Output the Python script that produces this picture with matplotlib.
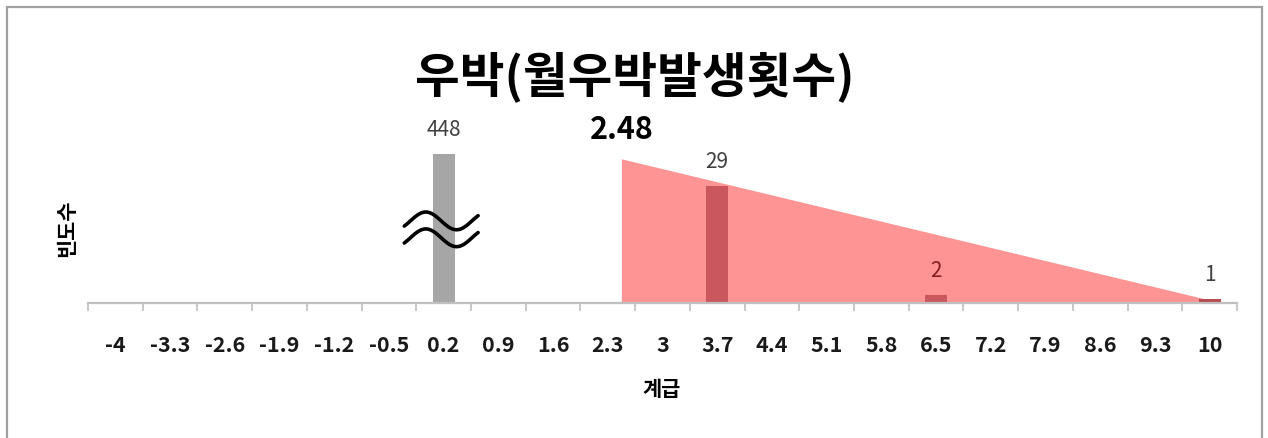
import numpy as np
import matplotlib
matplotlib.use("Agg")
import matplotlib.pyplot as plt
from matplotlib.patches import Polygon, Rectangle

plt.rcParams['font.family'] = ['Noto Sans CJK KR', 'DejaVu Sans']

# class marks on the x axis
class_labels = ["-4", "-3.3", "-2.6", "-1.9", "-1.2", "-0.5", "0.2", "0.9", "1.6",
                "2.3", "3", "3.7", "4.4", "5.1", "5.8", "6.5", "7.2", "7.9", "8.6",
                "9.3", "10"]
class_start = -4.0
class_step = 0.7

# observed frequencies
bar_classes = [0.2, 3.7, 6.5, 10.0]
bar_counts = [448, 29, 2, 1]
bar_colors = ["#A6A6A6", "#C9575D", "#C9575D", "#B84C52"]
label_colors = ["#404040", "#404040", "#8B1C1C", "#404040"]

# shaded region starting at the threshold
threshold = 2.48
region_height = 35.7
axis_cap = 37          # bars taller than this are drawn broken
y_top = 40

def pos(v):
    return (v - class_start) / class_step

W, H = 1268, 439
fig = plt.figure(figsize=(W / 100, H / 100), dpi=100)
fig.patch.set_facecolor("white")

# outer chart frame
fig.add_artist(Rectangle((7 / W, -0.05), (1262 - 7) / W, 1.05 - 8 / H,
                         transform=fig.transFigure, fill=False,
                         edgecolor="#A0A0A0", linewidth=1.6))

ax = fig.add_axes([88 / W, (H - 304) / H, (1237 - 88) / W, (304 - 143) / H])
n = len(class_labels)
ax.set_xlim(-0.5, n - 0.5)
ax.set_ylim(0, y_top)

bar_w = 0.4
end_pos = pos(bar_classes[-1]) + bar_w / 2
start_pos = pos(threshold)
ax.add_patch(Polygon([(start_pos, 0), (start_pos, region_height), (end_pos, 0)],
                     closed=True, facecolor="#FF9494", edgecolor="none", zorder=1))

xs = [pos(c) for c in bar_classes]
heights = [min(c, axis_cap) for c in bar_counts]
ax.bar(xs, heights, width=bar_w, color=bar_colors, zorder=2)

for x, h, c, col in zip(xs, heights, bar_counts, label_colors):
    ax.annotate(str(c), (x, h), xytext=(0, 10), textcoords="offset points",
                ha="center", va="bottom", fontsize=15, color=col)

ax.annotate(f"{threshold:.2f}", (start_pos, region_height), xytext=(0, 10),
            textcoords="offset points", ha="center", va="bottom",
            fontsize=22, fontweight="bold", color="black")

# break marks across the tall bar
t = np.linspace(0, 1, 100)
bx = pos(bar_classes[0]) - 0.72 + t * 1.35
for base in (20.4, 16.2):
    by = base + 2.2 * np.sin(2 * np.pi * (t * 1.2 - 0.1))
    ax.plot(bx, by, color="black", linewidth=2.6, zorder=4, solid_capstyle="round")

for s in ("left", "right", "top"):
    ax.spines[s].set_visible(False)
ax.spines["bottom"].set_color("#BFBFBF")
ax.spines["bottom"].set_linewidth(1.6)
ax.set_yticks([])

ax.set_xticks(np.arange(n))
ax.set_xticklabels(class_labels, fontsize=15.5, fontweight="bold", color="#1A1A1A")
ax.tick_params(axis="x", which="major", length=0, pad=22)
ax.set_xticks(np.arange(n + 1) - 0.5, minor=True)
ax.tick_params(axis="x", which="minor", length=6, width=1.2, color="#BFBFBF")

fig.text(635 / W, 1 - 77 / H, "우박(월우박발생횟수)", ha="center", va="center",
         fontsize=35, fontweight="bold", color="black")
fig.text(662 / W, 1 - 390 / H, "계급", ha="center", va="center",
         fontsize=15, fontweight="bold", color="black")
fig.text(67 / W, 1 - 228 / H, "빈도수", ha="center", va="center", rotation=90,
         fontsize=15, fontweight="bold", color="black")

fig.savefig("out.png", dpi=100, facecolor="white")
